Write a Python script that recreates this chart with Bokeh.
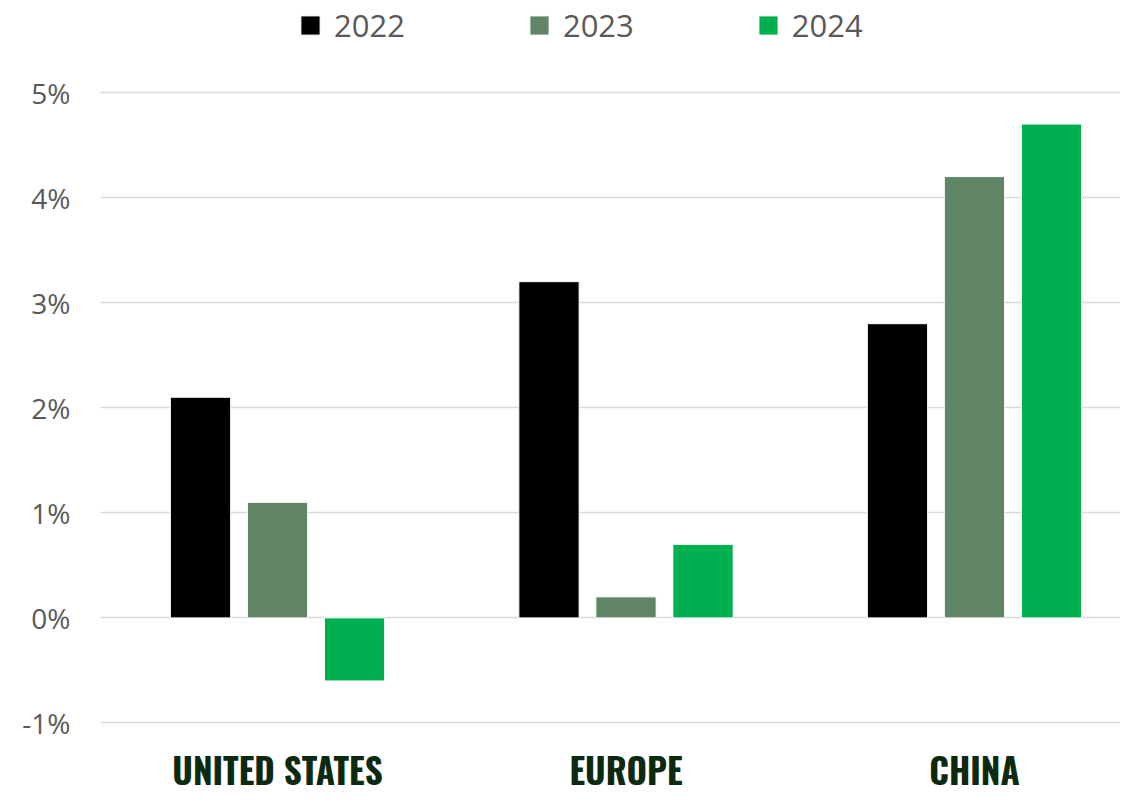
import numpy as np
from bokeh.plotting import figure
from bokeh.models import Range1d, FixedTicker, PrintfTickFormatter, Legend, LegendItem
from bokeh.embed import file_html
from bokeh.resources import INLINE

regions = ["UNITED STATES", "EUROPE", "CHINA"]
years = ["2022", "2023", "2024"]
v2022 = [2.1, 3.2, 2.8]
v2023 = [1.1, 0.2, 4.2]
v2024 = [-0.6, 0.7, 4.7]
colors = ["#000000", "#5F8566", "#00B050"]
y_ticks = [-1, 0, 1, 2, 3, 4, 5]

p = figure(width=1120, height=797, output_backend="svg", toolbar_location=None,
           x_range=Range1d(-0.508, 2.419), y_range=Range1d(-1.186, 5.876),
           min_border_left=100, min_border_right=0, min_border_top=0, min_border_bottom=0)
p.outline_line_color = None
p.background_fill_color = "white"

idx = np.arange(len(regions))
offsets = [-0.221, 0.0, 0.221]
renderers = []
for vals, off, c in zip([v2022, v2023, v2024], offsets, colors):
    r = p.vbar(x=idx + off, top=vals, bottom=0, width=0.173, fill_color=c,
               line_color="white", line_width=1)
    renderers.append(r)

p.xgrid.visible = False
p.ygrid.ticker = FixedTicker(ticks=y_ticks)
p.ygrid.grid_line_color = "#d9d9d9"
p.ygrid.grid_line_width = 1.5

p.yaxis.ticker = FixedTicker(ticks=y_ticks)
p.yaxis.formatter = PrintfTickFormatter(format="%d%%")
p.yaxis.axis_line_color = None
p.yaxis.major_tick_line_color = None
p.yaxis.minor_tick_line_color = None
p.yaxis.major_tick_out = 0
p.yaxis.major_tick_in = 0
p.yaxis.major_label_text_font = "Open Sans"
p.yaxis.major_label_text_font_size = "28px"
p.yaxis.major_label_text_color = "#595959"
p.yaxis.major_label_standoff = 30

p.xaxis.ticker = FixedTicker(ticks=list(idx))
p.xaxis.major_label_overrides = {int(i): r for i, r in zip(idx, regions)}
p.xaxis.axis_line_color = None
p.xaxis.major_tick_line_color = None
p.xaxis.minor_tick_line_color = None
p.xaxis.major_tick_out = 0
p.xaxis.major_tick_in = 0
p.xaxis.major_label_text_font = "Oswald, 'Liberation Sans Narrow', 'DejaVu Sans Condensed', sans-serif"
p.xaxis.major_label_text_font_style = "bold"
p.xaxis.major_label_text_font_size = "35px"
p.xaxis.major_label_text_color = "#0B2A0F"
p.xaxis.major_label_standoff = 0

legend = Legend(items=[LegendItem(label=y, renderers=[r]) for y, r in zip(years, renderers)],
                orientation="horizontal", location=(198, 696),
                glyph_width=24, glyph_height=24, label_standoff=12,
                label_text_font="Open Sans", label_text_font_size="31px",
                label_text_color="#595959", spacing=122, padding=0, margin=0,
                border_line_color=None, background_fill_alpha=0)
p.add_layout(legend)

open("out.html", "w").write(file_html(p, INLINE))
